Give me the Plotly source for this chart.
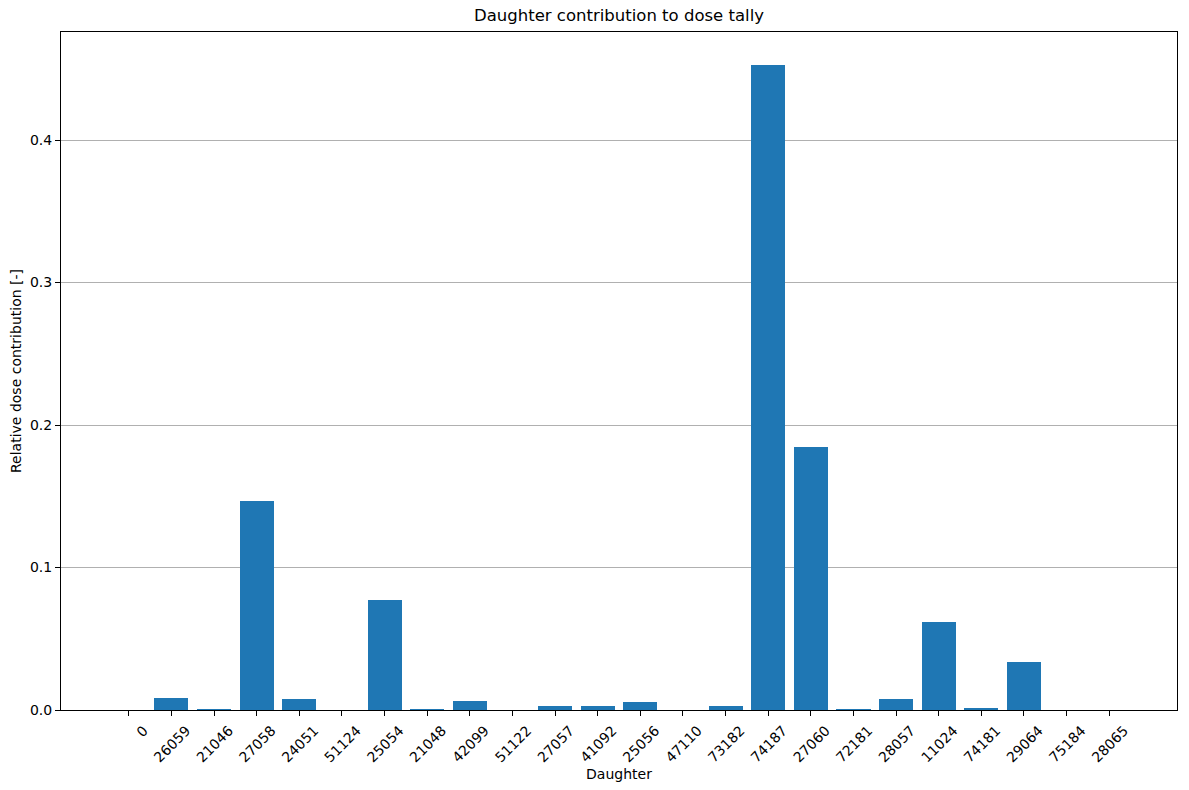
import plotly.graph_objects as go

daughters = ["0", "26059", "21046", "27058", "24051", "51124", "25054", "21048", "42099",
             "51122", "27057", "41092", "25056", "47110", "73182", "74187", "27060", "72181",
             "28057", "11024", "74181", "29064", "75184", "28065"]
contrib = [0.0, 0.0084, 0.0007, 0.1467, 0.0077, 0.0, 0.0772, 0.0007, 0.0065,
           0.0, 0.0030, 0.0030, 0.0058, 0.0, 0.0030, 0.4526, 0.1846, 0.0007,
           0.0077, 0.0618, 0.0014, 0.0337, 0.0, 0.0]

idx = list(range(len(daughters)))
font = "DejaVu Sans"

fig = go.Figure(go.Bar(x=idx, y=contrib, width=0.8, marker=dict(color="#1f77b4", line=dict(width=0))))

n = len(daughters)
fig.update_layout(
    width=1189, height=790,
    margin=dict(l=61, r=12, t=32, b=80),
    plot_bgcolor="white", paper_bgcolor="white",
    font=dict(family=font, size=14, color="black"),
    title=dict(text="Daughter contribution to dose tally", x=0.5, xref="paper",
               y=1, yref="container", yanchor="top", pad=dict(t=9),
               font=dict(family=font, size=16.5, color="black")),
    showlegend=False,
    bargap=0,
)
fig.update_xaxes(
    range=[-1.59, n - 1 + 1.59],
    tickmode="array", tickvals=idx, ticktext=daughters,
    tickangle=-45, ticks="outside", ticklen=5, tickcolor="black",
    ticklabelshift=15, ticklabelstandoff=1,
    showline=True, linecolor="black", linewidth=1, mirror=True,
    showgrid=False, zeroline=False,
    title=dict(text="Daughter", standoff=4, font=dict(family=font, size=14)),
)
fig.update_yaxes(
    range=[0, 0.4758],
    tickmode="array", tickvals=[0, 0.1, 0.2, 0.3, 0.4],
    ticktext=["0.0", "0.1", "0.2", "0.3", "0.4"],
    ticks="outside", ticklen=5, tickcolor="black",
    showline=True, linecolor="black", linewidth=1, mirror=True,
    showgrid=True, gridcolor="#b0b0b0", gridwidth=1, zeroline=False,
    title=dict(text="Relative dose contribution [-]", standoff=5, font=dict(family=font, size=14)),
)
fig.write_html("out.html")
